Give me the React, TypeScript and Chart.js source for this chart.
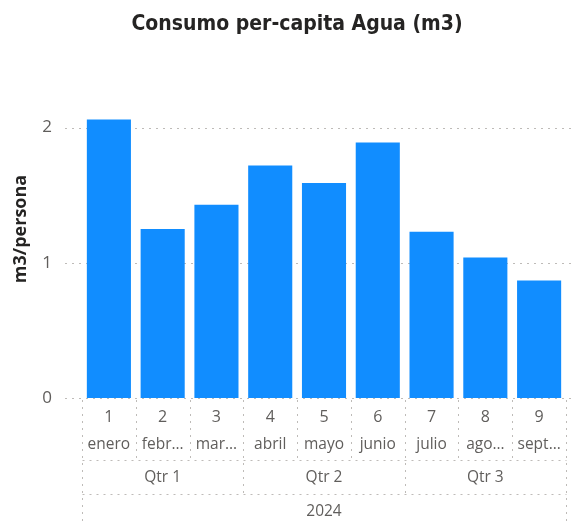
import React, { useEffect, useRef } from "react";
import { Chart, registerables } from "chart.js";

Chart.register(...registerables);

const TITLE = "Consumo per-capita Agua (m3)";
const Y_TITLE = "m3/persona";
const monthNumbers = ["1", "2", "3", "4", "5", "6", "7", "8", "9"];
const monthNames = ["enero", "febr…", "mar…", "abril", "mayo", "junio", "julio", "ago…", "sept…"];
const quarters = ["Qtr 1", "Qtr 2", "Qtr 3"];
const quarterSpans = [3, 3, 3];
const years = ["2024"];
const consumo = [2.06, 1.25, 1.43, 1.72, 1.59, 1.89, 1.23, 1.04, 0.87];
const yTicks = [0, 1, 2];
const Y_MAX = 2.5;

const TEXT_GRAY = "#605E5C";
const DARK = "#252423";
const GRID = "#BEBBB8";
const BAR = "#118DFF";
const TICK_FONT = "'Open Sans', 'Noto Sans', sans-serif";

function dotted(ctx: CanvasRenderingContext2D, x1: number, y1: number, x2: number, y2: number) {
  ctx.beginPath();
  ctx.moveTo(x1, y1);
  ctx.lineTo(x2, y2);
  ctx.stroke();
}

const decorPlugin = {
  id: "decor",
  beforeDatasetsDraw(chart: any) {
    const ctx: CanvasRenderingContext2D = chart.ctx;
    const ys = chart.scales.y;
    ctx.save();
    ctx.strokeStyle = GRID;
    ctx.lineWidth = 1;
    ctx.setLineDash([2, 5]);
    for (const v of yTicks) {
      const y = Math.round(ys.getPixelForValue(v)) + 0.5;
      dotted(ctx, 65, y, chart.width, y);
    }
    ctx.restore();
  },
  afterDraw(chart: any) {
    const ctx: CanvasRenderingContext2D = chart.ctx;
    const xs = chart.scales.x;
    const area = chart.chartArea;
    const n = monthNumbers.length;
    const w = xs.getPixelForValue(1) - xs.getPixelForValue(0);
    const bnd = (k: number) => xs.getPixelForValue(k) - w / 2;
    const base = area.bottom;
    const line1 = base + 62;
    const line2 = base + 96;

    ctx.save();
    // title
    ctx.fillStyle = DARK;
    ctx.font = "bold 21px 'DejaVu Sans Condensed', 'DejaVu Sans', sans-serif";
    ctx.textAlign = "center";
    ctx.textBaseline = "middle";
    ctx.fillText(TITLE, 297, 25);

    // dotted separators
    ctx.strokeStyle = GRID;
    ctx.lineWidth = 1;
    ctx.setLineDash([2, 5]);
    const qBounds: number[] = [0];
    quarterSpans.forEach((s) => qBounds.push(qBounds[qBounds.length - 1] + s));
    for (let k = 0; k <= n; k++) {
      const x = Math.round(bnd(k)) + 0.5;
      let bottom = line1;
      if (k === 0 || k === n) bottom = chart.height;
      else if (qBounds.includes(k)) bottom = line2;
      dotted(ctx, x, base + 2, x, bottom);
    }
    const l = Math.round(bnd(0)) + 0.5;
    const r = Math.round(bnd(n)) + 0.5;
    dotted(ctx, l, Math.round(line1) + 0.5, r, Math.round(line1) + 0.5);
    dotted(ctx, l, Math.round(line2) + 0.5, r, Math.round(line2) + 0.5);

    // labels
    ctx.setLineDash([]);
    ctx.fillStyle = TEXT_GRAY;
    ctx.font = "16px " + TICK_FONT;
    for (let i = 0; i < n; i++) {
      const cx = xs.getPixelForValue(i);
      ctx.fillText(monthNumbers[i], cx, base + 19);
    }
    ctx.font = "15.5px " + TICK_FONT;
    for (let i = 0; i < n; i++) {
      const cx = xs.getPixelForValue(i);
      ctx.fillText(monthNames[i], cx, base + 47);
    }
    quarters.forEach((q, i) => {
      const cx = (bnd(qBounds[i]) + bnd(qBounds[i + 1])) / 2;
      ctx.fillText(q, cx, base + 80);
    });
    years.forEach((yv) => {
      ctx.fillText(yv, (bnd(0) + bnd(n)) / 2, base + 114);
    });
    ctx.restore();
  },
};

export default function App() {
  const ref = useRef<HTMLCanvasElement | null>(null);
  useEffect(() => {
    if (!ref.current) return;
    const chart = new Chart(ref.current, {
      type: "bar",
      data: {
        labels: monthNumbers,
        datasets: [
          {
            label: Y_TITLE,
            data: consumo,
            backgroundColor: BAR,
            categoryPercentage: 1,
            barPercentage: 0.82,
          },
        ],
      },
      options: {
        responsive: false,
        animation: false,
        layout: { padding: { top: 60, right: 10, left: 0, bottom: 0 } },
        plugins: {
          legend: { display: false },
          title: { display: false },
          tooltip: { enabled: false },
        },
        scales: {
          x: {
            type: "category",
            offset: true,
            grid: { display: false, drawTicks: false },
            border: { display: false },
            ticks: { display: false },
            afterFit: (s: any) => {
              s.height = 127;
            },
          },
          y: {
            min: 0,
            max: Y_MAX,
            grid: { display: false, drawTicks: false },
            border: { display: false },
            afterBuildTicks: (s: any) => {
              s.ticks = yTicks.map((v) => ({ value: v }));
            },
            ticks: {
              color: TEXT_GRAY,
              padding: 30,
              font: { family: TICK_FONT, size: 17 },
            },
            title: {
              display: true,
              text: Y_TITLE,
              color: DARK,
              font: { family: TICK_FONT, size: 18, weight: "bold" },
              padding: { top: 10, bottom: 0 },
            },
            afterFit: (s: any) => {
              s.width = 82;
            },
          },
        },
      },
      plugins: [decorPlugin],
    } as any);
    return () => chart.destroy();
  }, []);
  return (
    <div style={{ position: "fixed", left: 0, top: 0, width: 576, height: 525, background: "#fff" }}>
      <canvas ref={ref} width={576} height={525} />
    </div>
  );
}
